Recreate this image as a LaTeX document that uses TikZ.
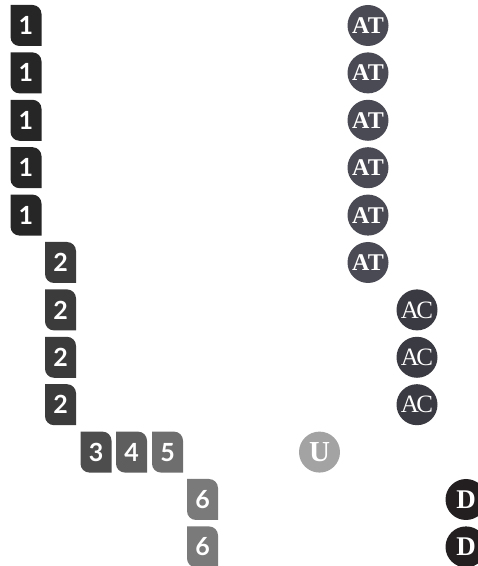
\documentclass[tikz,border=0pt]{standalone}
\usepackage{fontspec}
\newfontfamily\digitfont{Lato}
\newfontfamily\circfont{Liberation Serif}
\definecolor{cA}{HTML}{262626}
\definecolor{cB}{HTML}{3B3B3B}
\definecolor{cC}{HTML}{4D4D4D}
\definecolor{cD}{HTML}{5E5E5E}
\definecolor{cE}{HTML}{6E6E6E}
\definecolor{cF}{HTML}{7A7A7A}
\definecolor{cAT}{HTML}{4A4A54}
\definecolor{cAC}{HTML}{3A3A42}
\definecolor{cU}{HTML}{A3A3A3}
\definecolor{cDD}{HTML}{231F20}
\tikzset{
  tagtxt/.style={inner sep=0pt, minimum width=31pt, minimum height=41pt, text=white, font=\digitfont\bfseries\fontsize{25}{25}\selectfont},
  badge/.style={circle, inner sep=0pt, minimum size=41pt, text=white, font=\circfont\bfseries\fontsize{24}{24}\selectfont},
  acbadge/.style={badge, fill=cAC, font=\circfont\fontsize{25}{25}\selectfont},
  atbadge/.style={badge, fill=cAT},
  dbadge/.style={badge, fill=cDD, font=\circfont\bfseries\fontsize{27}{27}\selectfont},
}
% name, x, row-y (from top), color, text
\newcommand\tagbox[5]{%
  \fill[#4] ({#2-15.5},{566-#3+20.5}) -- ({#2+6.5},{566-#3+20.5})
    arc[start angle=90,end angle=0,radius=9] -- ({#2+15.5},{566-#3-20.5})
    -- ({#2-6.5},{566-#3-20.5}) arc[start angle=270,end angle=180,radius=9] -- cycle;
  \node[tagtxt] (#1) at (#2,{566-#3}) {#5};}
\begin{document}
\begin{tikzpicture}[x=1pt,y=1pt]
\useasboundingbox (0,0) rectangle (478,566);
\tagbox{a1}{26}{25.5}{cA}{1}
\tagbox{a2}{26}{72.9}{cA}{1}
\tagbox{a3}{26}{120.3}{cA}{1}
\tagbox{a4}{26}{167.7}{cA}{1}
\tagbox{a5}{26}{215.1}{cA}{1}
\tagbox{b1}{60.5}{262.5}{cB}{2}
\tagbox{b2}{60.5}{309.9}{cB}{2}
\tagbox{b3}{60.5}{357.3}{cB}{2}
\tagbox{b4}{60.5}{404.7}{cB}{2}
\tagbox{c3}{96}{452.1}{cC}{3}
\tagbox{c4}{131.5}{452.1}{cD}{4}
\tagbox{c5}{167.5}{452.1}{cE}{5}
\tagbox{f1}{202.5}{499.5}{cF}{6}
\tagbox{f2}{202.5}{546.9}{cF}{6}
\node[atbadge] (at1) at (368,{566-25.5}) {A\kern-1.5ptT};
\node[atbadge] (at2) at (368,{566-72.9}) {A\kern-1.5ptT};
\node[atbadge] (at3) at (368,{566-120.3}) {A\kern-1.5ptT};
\node[atbadge] (at4) at (368,{566-167.7}) {A\kern-1.5ptT};
\node[atbadge] (at5) at (368,{566-215.1}) {A\kern-1.5ptT};
\node[atbadge] (at6) at (368,{566-262.5}) {A\kern-1.5ptT};
\node[acbadge] (ac1) at (417,{566-309.9}) {A\kern-2.5ptC};
\node[acbadge] (ac2) at (417,{566-357.3}) {A\kern-2.5ptC};
\node[acbadge] (ac3) at (417,{566-404.7}) {A\kern-2.5ptC};
\node[badge, fill=cU, font=\circfont\bfseries\fontsize{29}{29}\selectfont] (u) at (319.5,{566-452.1}) {U};
\node[dbadge] (d1) at (466,{566-499.5}) {D};
\node[dbadge] (d2) at (466,{566-546.9}) {D};
\end{tikzpicture}
\end{document}
